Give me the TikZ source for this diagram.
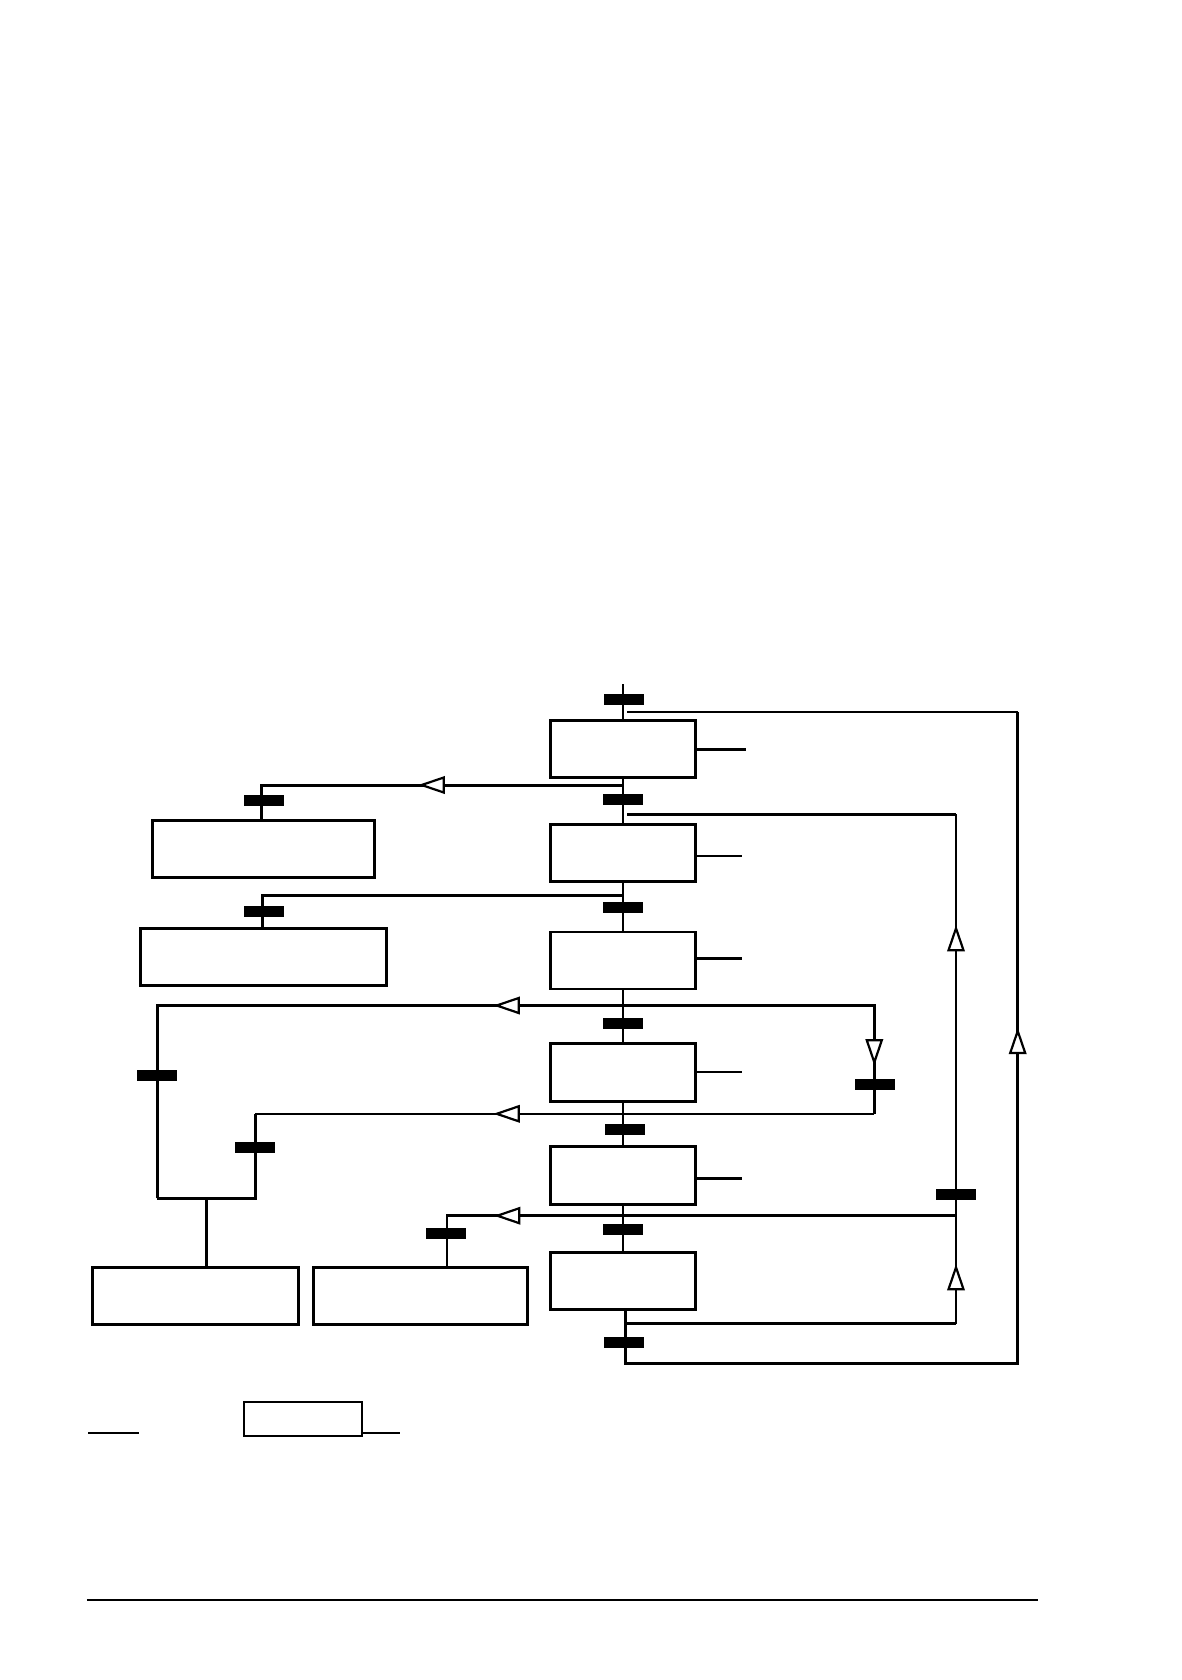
\documentclass[tikz,border=0pt]{standalone}
\begin{document}
\begin{tikzpicture}[x=1pt,y=-1pt,line cap=butt,
  thk/.style={line width=3pt},
  thn/.style={line width=2pt},
  mid/.style={line width=2.5pt},
  stepbox/.style={draw, rectangle, inner sep=0pt, outer sep=0pt, fill=white},
  tbar/.style={fill=black, rectangle, inner sep=0pt, outer sep=0pt, minimum width=40pt, minimum height=11pt},
  opentri/.pic={\draw[line width=2.2pt, fill=white, line join=miter] (0,0) -- (-22,7.5) -- (-22,-7.5) -- cycle;}
]
\useasboundingbox (0,0) rectangle (1182,1680);

% main column steps
\node[stepbox, thk, minimum width=145pt, minimum height=57pt] (b1) at (623,749.2) {};
\node[stepbox, mid, minimum width=145pt, minimum height=57pt] (b2) at (623,853) {};
\node[stepbox, mid, minimum width=145pt, minimum height=57pt] (b3) at (623,960.5) {};
\node[stepbox, mid, minimum width=145pt, minimum height=58pt] (b4) at (623,1072.5) {};
\node[stepbox, mid, minimum width=145pt, minimum height=58pt] (b5) at (623,1175.5) {};
\node[stepbox, thk, minimum width=145pt, minimum height=57pt] (b6) at (623,1280.9) {};

% left steps
\node[stepbox, thk, minimum width=222pt, minimum height=57pt] (l1) at (263.3,848.7) {};
\node[stepbox, thk, minimum width=246.6pt, minimum height=57pt] (l2) at (263.5,956.7) {};
\node[stepbox, thk, minimum width=206.3pt, minimum height=56.4pt] (q1) at (195.3,1296) {};
\node[stepbox, thk, minimum width=214.3pt, minimum height=56.4pt] (q2) at (420.3,1296) {};

% legend
\node[stepbox, mid, minimum width=118pt, minimum height=34pt] (lg) at (302.8,1418.8) {};

% coordinates
\coordinate (top) at (623,684);
\coordinate (c6) at (625,1311);
\coordinate (cb) at (625,1363.3);
\coordinate (rr) at (1017.7,1363.3);
\coordinate (rt) at (1017.7,712);
\coordinate (rs) at (627,712);
\coordinate (sa) at (626.7,1323.7);
\coordinate (sb) at (956,1323.7);
\coordinate (st) at (956,814.3);
\coordinate (ss) at (627,814.3);
\coordinate (ja) at (157,1198.3);
\coordinate (jb) at (255,1198.3);
\coordinate (jm) at (206.3,1198.3);
\coordinate (pd) at (874.3,1005.5);
\coordinate (pu) at (874.3,1113.8);
\coordinate (kl) at (157,1005.5);
\coordinate (km) at (255,1113.8);
\coordinate (ml) at (261.7,785);
\coordinate (nl) at (262.3,895.3);
\coordinate (ol) at (447,1215.7);
\coordinate (or) at (956,1215.7);

% main vertical line
\draw[thn] (top) -- (b1.north);
\draw[thn] (b1.south) -- (b2.north);
\draw[thn] (b2.south) -- (b3.north);
\draw[thn] (b3.south) -- (b4.north);
\draw[thn] (b4.south) -- (b5.north);
\draw[thn] (b5.south) -- (b6.north);

% outer return loop
\draw[thk] (c6) -- (cb) -- (rr) -- (rt);
\draw[thn] (rt) -- (rs);

% inner return loop
\draw[thk] (sa) -- (sb);
\draw[thn] (sb) -- (st);
\draw[thk] (st) -- (ss);

% branches to left steps
\draw[thk] (b1.south |- ml) -- (ml) -- (l1.north -| ml);
\draw[thk] (b2.south |- nl) -- (nl) -- (l2.north -| nl);

% branch loop at step 3/4
\draw[thk] (ja) -- (kl) -- (pd) -- (pu);
\draw[thn] (pu) -- (km);
\draw[thk] (km) -- (jb) -- (ja);
\draw[thk] (jm) -- (q1.north -| jm);

% branch to q2
\draw[mid] (or) -- (ol) -- (q2.north -| ol);

% action stubs
\draw[thk] (b1.east) -- (746,749.2);
\draw[thn] (b2.east |- 0,855.7) -- (741.7,855.7);
\draw[thk] (b3.east |- 0,958.3) -- (741.7,958.3);
\draw[thn] (b4.east |- 0,1071.7) -- (741.7,1071.7);
\draw[thk] (b5.east |- 0,1178.3) -- (741.7,1178.3);

% legend
\draw[thn] (88.3,1433.3) -- (138.7,1433.3);
\draw[thn] (lg.east |- 0,1432.7) -- (399.7,1432.7);

% bottom rule
\draw[line width=1.3pt] (86.8,1600) -- (1038.4,1600);

% open arrowheads
\pic[rotate=180] at (421.7,785) {opentri};
\pic[rotate=180] at (496.7,1005.5) {opentri};
\pic[rotate=180] at (496.7,1113.8) {opentri};
\pic[rotate=180] at (497.3,1215.7) {opentri};
\pic[rotate=-90] at (874.3,1062.3) {opentri};
\pic[rotate=90] at (956,928.3) {opentri};
\pic[rotate=90] at (956,1267.3) {opentri};
\pic[rotate=90] at (1017.7,1031) {opentri};

% transition bars
\node[tbar] (t1) at (624,699.5) {};
\node[tbar] (t2) at (623,799.5) {};
\node[tbar] (t3) at (623,907.5) {};
\node[tbar] (t4) at (623.4,1023) {};
\node[tbar] (t5) at (625,1129.5) {};
\node[tbar] (t6) at (623,1229.5) {};
\node[tbar] (t7) at (624.4,1342.5) {};
\node[tbar] (u1) at (263.5,800.2) {};
\node[tbar] (u2) at (263.5,911.2) {};
\node[tbar] (u3) at (156.5,1075.3) {};
\node[tbar] (u4) at (254.5,1147.3) {};
\node[tbar] (u5) at (445.7,1233.3) {};
\node[tbar] (u6) at (874.5,1084.5) {};
\node[tbar] (u7) at (955.5,1194.5) {};
\end{tikzpicture}
\end{document}
